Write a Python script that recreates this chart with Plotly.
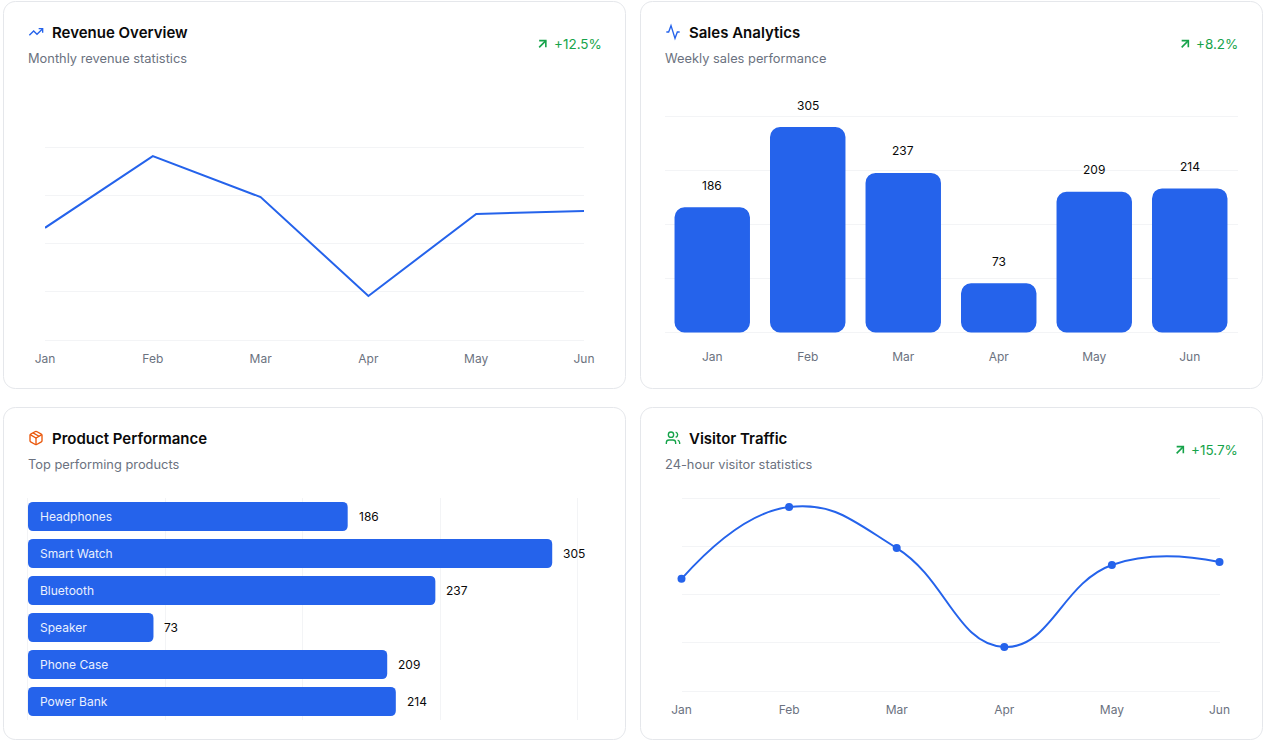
import re
import plotly.graph_objects as go

W = 1266
H = 745

months = ["Jan", "Feb", "Mar", "Apr", "May", "Jun"]
revenue = [186, 305, 237, 73, 209, 214]
weekly_sales = [186, 305, 237, 73, 209, 214]
products = ["Headphones", "Smart Watch", "Bluetooth", "Speaker", "Phone Case", "Power Bank"]
product_sales = [186, 305, 237, 73, 209, 214]
visitors = [186, 305, 237, 73, 209, 214]
grid_ticks = [0, 80, 160, 240, 320]

BLUE = "#2563eb"
GREEN = "#16a34a"
ORANGE = "#ea580c"
GRID = "#f3f4f6"
GRAY = "#6b7280"
DARK = "#0a0a0a"
FONT = "Inter"
PAD = 6  # plotly drops gridlines sitting right on the range ends

# lucide icons, 24x24 box, arcs written out as curves
ICONS = {
    "trend": ["M22 7 L13.5 15.5 L8.5 10.5 L2 17", "M16 7 L22 7 L22 13"],
    "activity": ["M22 12 L18.5 12 L15 21.5 L9 2.5 L5.5 12 L2 12"],
    "package": [
        "M11 21.7 L4 17.7 C3.4 17.4 3 16.7 3 16 L3 8 C3 7.3 3.4 6.6 4 6.3 L11 2.3 C11.6 2 12.4 2 13 2.3 "
        "L20 6.3 C20.6 6.6 21 7.3 21 8 L21 16 C21 16.7 20.6 17.4 20 17.7 L13 21.7 C12.4 22 11.6 22 11 21.7 Z",
        "M12 22 L12 12",
        "M3.3 7 L12 12 L20.7 7",
        "M7.5 4.3 L16.5 9.4",
    ],
    "users": [
        "M16 21 L16 19 C16 16.8 14.2 15 12 15 L6 15 C3.8 15 2 16.8 2 19 L2 21",
        "M9 3 C11.2 3 13 4.8 13 7 C13 9.2 11.2 11 9 11 C6.8 11 5 9.2 5 7 C5 4.8 6.8 3 9 3 Z",
        "M22 21 L22 19 C22 17.2 20.8 15.6 19 15.1",
        "M16 3.1 C17.8 3.6 19 5.2 19 7 C19 8.8 17.8 10.4 16 10.9",
    ],
    "arrow": ["M7 7 L17 7 L17 17", "M7 17 L17 7"],
}


def fx(x):
    return x / W


def fy(y):
    return 1 - y / H


def icon_shape(path, left, top, color, size=16, width=1.35):
    s = size / 24

    def conv(m):
        return "%.5f %.5f" % (fx(left + float(m.group(1)) * s), fy(top + float(m.group(2)) * s))

    return dict(type="path", xref="paper", yref="paper", layer="above",
                path=re.sub(r"(-?[\d.]+) (-?[\d.]+)", conv, path),
                line=dict(color=color, width=width))


def card_shape(x0, y0, x1, y1, r=12):
    a, b, c, d = fx(x0), fy(y0), fx(x1), fy(y1)
    rx, ry = r / W, r / H
    k = 0.45
    path = (f"M {a + rx} {b} L {c - rx} {b} C {c - rx * k} {b} {c} {b - ry * k} {c} {b - ry} "
            f"L {c} {d + ry} C {c} {d + ry * k} {c - rx * k} {d} {c - rx} {d} "
            f"L {a + rx} {d} C {a + rx * k} {d} {a} {d + ry * k} {a} {d + ry} "
            f"L {a} {b - ry} C {a} {b - ry * k} {a + rx * k} {b} {a + rx} {b} Z")
    return dict(type="path", xref="paper", yref="paper", layer="below", path=path,
                fillcolor="white", line=dict(color="#e5e7eb", width=1))


def label(x, y, text, size=12.85, color=GRAY, anchor="left", weight=None):
    return dict(x=fx(x), y=fy(y), xref="paper", yref="paper", text=text, showarrow=False,
                xanchor=anchor, yanchor="middle", borderpad=0, borderwidth=0,
                font=dict(family=FONT, size=size, color=color, weight=weight))


cards = [
    (3.5, 1.5, 625.5, 388.5),
    (640.5, 1.5, 1262.5, 388.5),
    (3.5, 407.5, 625.5, 739.5),
    (640.5, 407.5, 1262.5, 739.5),
]
shapes = [card_shape(*c) for c in cards]

annotations = []
headers = [
    (28, 24, "trend", BLUE, "Revenue Overview", "Monthly revenue statistics"),
    (665, 24, "activity", BLUE, "Sales Analytics", "Weekly sales performance"),
    (28, 430, "package", ORANGE, "Product Performance", "Top performing products"),
    (665, 430, "users", GREEN, "Visitor Traffic", "24-hour visitor statistics"),
]
for x, top, icon, color, title, sub in headers:
    for p in ICONS[icon]:
        shapes.append(icon_shape(p, x, top, color))
    annotations.append(label(x + 24, top + 8, title, size=15, color=DARK, weight=600))
    annotations.append(label(x, top + 34, sub))

deltas = [(534.5, 44, 601.5, "+12.5%"), (1177, 44, 1237.5, "+8.2%"), (1172, 450, 1237.5, "+15.7%")]
for ax, y, right, text in deltas:
    for p in ICONS["arrow"]:
        shapes.append(icon_shape(p, ax, y - 8, GREEN, width=1.6))
    annotations.append(label(right, y, text, size=13.5, color=GREEN, anchor="right"))

fig = go.Figure()

# Revenue line
fig.add_trace(go.Scatter(x=months, y=revenue, mode="lines", xaxis="x", yaxis="y",
                         line=dict(color=BLUE, width=2), cliponaxis=False))

# Sales bars, an explicit base gets all four corners rounded
fig.add_trace(go.Bar(x=months, y=weekly_sales, base=[0] * len(weekly_sales),
                     xaxis="x2", yaxis="y2", marker=dict(color=BLUE, cornerradius=10, line_width=0)))
for m, v in zip(months, weekly_sales):
    annotations.append(dict(x=m, y=v, xref="x2", yref="y2", text=str(v), showarrow=False,
                            yanchor="middle", yshift=22, font=dict(family=FONT, size=12, color=DARK)))

# Product bars
fig.add_trace(go.Bar(y=products, x=product_sales, base=[0] * len(product_sales),
                     orientation="h", xaxis="x3", yaxis="y3",
                     marker=dict(color=BLUE, cornerradius=5, line_width=0)))
for p, v in zip(products, product_sales):
    annotations.append(dict(x=0, y=p, xref="x3", yref="y3", text=p, showarrow=False, xanchor="left",
                            xshift=12, borderpad=0, borderwidth=0,
                            font=dict(family=FONT, size=12, color="#eaf0fe")))
    annotations.append(dict(x=v, y=p, xref="x3", yref="y3", text=str(v), showarrow=False, xanchor="left",
                            xshift=11, borderpad=0, borderwidth=0,
                            font=dict(family=FONT, size=12, color=DARK)))

# Visitors spline
fig.add_trace(go.Scatter(x=months, y=visitors, mode="lines+markers", xaxis="x4", yaxis="y4",
                         line=dict(color=BLUE, width=2, shape="spline", smoothing=1.3),
                         marker=dict(color=BLUE, size=8), cliponaxis=False))


def x_cat(left, right, rng, standoff):
    return dict(domain=[fx(left), fx(right)], range=rng, type="category", showgrid=False, zeroline=False,
                showline=False, ticks="", ticklabelstandoff=standoff, fixedrange=True, automargin=False,
                tickfont=dict(family=FONT, size=12, color=GRAY))


def y_val(top, bottom, anchor):
    s = (bottom - top) / 320
    return dict(domain=[fy(bottom + PAD * s), fy(top - PAD * s)], range=[-PAD, 320 + PAD], tickvals=grid_ticks,
                showticklabels=False, showgrid=True, gridcolor=GRID, gridwidth=1, zeroline=False, showline=False,
                ticks="", anchor=anchor, fixedrange=True, automargin=False)


s3 = (578 - 28) / 320

fig.update_layout(
    width=W, height=H, margin=dict(l=0, r=0, t=0, b=0, pad=0), autosize=False,
    paper_bgcolor="white", plot_bgcolor="rgba(0,0,0,0)", showlegend=False,
    barmode="overlay", bargap=0.21, hovermode=False,
    xaxis=dict(x_cat(45, 584, [0, 5], 6), anchor="y"),
    yaxis=y_val(147, 340, "x"),
    xaxis2=dict(x_cat(664.5, 1237.5, [-0.5, 5.5], 11), anchor="y2"),
    yaxis2=y_val(117, 332.5, "x2"),
    xaxis3=dict(domain=[fx(28 - PAD * s3), fx(578 + PAD * s3)], range=[-PAD, 320 + PAD], tickvals=grid_ticks,
                showticklabels=False, showgrid=True, gridcolor=GRID, zeroline=False, showline=False, ticks="",
                anchor="y3", fixedrange=True, automargin=False),
    yaxis3=dict(domain=[fy(720), fy(498)], range=[5.5, -0.5], type="category", categoryorder="array",
                categoryarray=products, showticklabels=False, showgrid=False, zeroline=False,
                showline=False, ticks="", anchor="x3", fixedrange=True, automargin=False),
    xaxis4=dict(x_cat(681.5, 1219.5, [0, 5], 6), anchor="y4"),
    yaxis4=y_val(498, 691, "x4"),
    shapes=shapes,
    annotations=annotations,
)

fig.write_html("out.html", config=dict(displayModeBar=False),
               post_script="document.body.style.margin='0';")
